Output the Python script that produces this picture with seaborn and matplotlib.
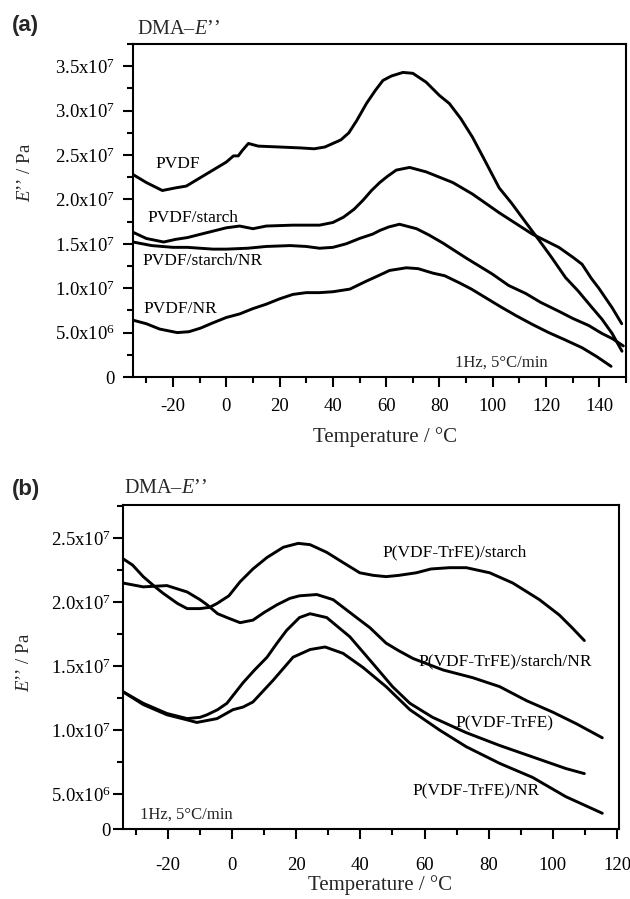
import matplotlib
matplotlib.use("Agg")
import matplotlib.pyplot as plt
import seaborn as sns
import pandas as pd
from matplotlib.ticker import MultipleLocator, FixedLocator

# ---------------- Panel (a): PVDF blends ----------------
pvdf_T = [-35, -30, -24, -19, -15, -10, -5, 0, 2.7, 4.5, 6, 8.3, 12, 20, 27.7, 33, 37, 40, 43, 46,
          49, 52.6, 56, 58.8, 62, 66.3, 70, 75, 80, 83.7, 88, 92.4, 97, 102.4, 107, 112.4, 117.4,
          122, 127.3, 132, 137.3, 141, 144.8, 148.5]
pvdf_E = [2.28e7, 2.19e7, 2.10e7, 2.13e7, 2.15e7, 2.24e7, 2.33e7, 2.42e7, 2.49e7, 2.49e7, 2.55e7,
          2.63e7, 2.60e7, 2.59e7, 2.58e7, 2.57e7, 2.59e7, 2.63e7, 2.67e7, 2.75e7, 2.89e7, 3.08e7,
          3.23e7, 3.34e7, 3.39e7, 3.43e7, 3.42e7, 3.32e7, 3.17e7, 3.08e7, 2.91e7, 2.70e7, 2.44e7,
          2.13e7, 1.96e7, 1.74e7, 1.54e7, 1.35e7, 1.12e7, 9.7e6, 7.8e6, 6.5e6, 4.9e6, 2.9e6]

starch_T = [-35, -30, -23.5, -19, -14.6, -8, 0, 5, 10, 15, 25, 35, 40, 44, 48, 51.3, 54.5, 57.6,
            60.5, 63.8, 68.8, 75, 80, 85, 92.4, 102.4, 114.8, 124.8, 130, 133.5, 137, 139.8,
            144.8, 148.4]
starch_E = [1.63e7, 1.56e7, 1.52e7, 1.55e7, 1.57e7, 1.62e7, 1.68e7, 1.70e7, 1.67e7, 1.70e7,
            1.71e7, 1.71e7, 1.74e7, 1.80e7, 1.89e7, 1.99e7, 2.10e7, 2.19e7, 2.26e7, 2.33e7,
            2.36e7, 2.31e7, 2.25e7, 2.19e7, 2.06e7, 1.85e7, 1.61e7, 1.46e7, 1.35e7, 1.27e7,
            1.11e7, 1.00e7, 7.8e6, 6.0e6]

starchnr_T = [-35, -28, -20, -14.6, -5, 0, 8, 15, 24, 30, 35, 40, 45, 50, 55, 57.6, 61, 65, 71.4,
              76, 81.2, 90, 99.8, 106, 112.4, 118, 124.8, 130, 136, 141, 145, 149]
starchnr_E = [1.52e7, 1.48e7, 1.46e7, 1.46e7, 1.44e7, 1.44e7, 1.45e7, 1.47e7, 1.48e7, 1.47e7,
              1.45e7, 1.46e7, 1.50e7, 1.56e7, 1.61e7, 1.65e7, 1.69e7, 1.72e7, 1.67e7, 1.60e7,
              1.51e7, 1.34e7, 1.16e7, 1.03e7, 9.4e6, 8.4e6, 7.4e6, 6.6e6, 5.8e6, 4.9e6, 4.3e6,
              3.5e6]

nr_T = [-35, -30, -25, -18.4, -14, -9.7, -5, 0, 5, 10, 15, 20, 25, 30, 35, 40, 46.4, 52.6, 57,
        61.3, 67.6, 72, 77.5, 82, 87.5, 92, 97.5, 103, 108.8, 115, 121, 127, 133.5, 139, 144.4]
nr_E = [6.4e6, 6.0e6, 5.4e6, 5.0e6, 5.1e6, 5.5e6, 6.1e6, 6.7e6, 7.1e6, 7.7e6, 8.2e6, 8.8e6,
        9.3e6, 9.5e6, 9.5e6, 9.6e6, 9.9e6, 1.08e7, 1.14e7, 1.20e7, 1.23e7, 1.22e7, 1.17e7,
        1.14e7, 1.06e7, 9.9e6, 8.9e6, 7.9e6, 6.9e6, 5.9e6, 5.0e6, 4.2e6, 3.3e6, 2.3e6, 1.2e6]

# ---------------- Panel (b): P(VDF-TrFE) blends ----------------
tstarch_T = [-34, -31, -27.7, -24, -21.5, -17, -14, -10, -7, -4.7, -1, 2.5, 6.5, 10.9, 16, 20.6,
             24.3, 29.5, 34.6, 39.8, 44, 48, 52, 57.4, 62, 67.8, 73, 80.3, 87.5, 95.8, 102, 106,
             109.8]
tstarch_E = [2.34e7, 2.29e7, 2.20e7, 2.12e7, 2.07e7, 1.99e7, 1.95e7, 1.95e7, 1.96e7, 1.99e7,
             2.05e7, 2.16e7, 2.26e7, 2.35e7, 2.43e7, 2.46e7, 2.45e7, 2.39e7, 2.31e7, 2.23e7,
             2.21e7, 2.20e7, 2.21e7, 2.23e7, 2.26e7, 2.27e7, 2.27e7, 2.23e7, 2.15e7, 2.02e7,
             1.90e7, 1.80e7, 1.70e7]

tstarchnr_T = [-34, -27.7, -20.3, -14, -10, -7.8, -4.5, -1.6, 2.5, 6.5, 10, 14, 18, 21, 26.4,
               31.5, 38.8, 43, 48, 52, 56.4, 65.8, 75, 83.4, 91.8, 100, 107.3, 115.4]
tstarchnr_E = [2.15e7, 2.12e7, 2.13e7, 2.08e7, 2.02e7, 1.98e7, 1.91e7, 1.88e7, 1.84e7, 1.86e7,
               1.92e7, 1.98e7, 2.03e7, 2.05e7, 2.06e7, 2.02e7, 1.88e7, 1.80e7, 1.68e7, 1.62e7,
               1.56e7, 1.47e7, 1.41e7, 1.34e7, 1.23e7, 1.14e7, 1.05e7, 9.4e6]

trfe_T = [-34, -27.7, -20.3, -14, -10, -7.8, -4.5, -1.6, 3.4, 7, 10.9, 14, 17, 21, 24.3, 29.5,
          36.7, 43.9, 50, 55.4, 62.5, 73, 83.4, 93.7, 104, 109.8]
trfe_E = [1.30e7, 1.21e7, 1.13e7, 1.09e7, 1.10e7, 1.12e7, 1.16e7, 1.21e7, 1.37e7, 1.47e7,
          1.57e7, 1.68e7, 1.78e7, 1.88e7, 1.91e7, 1.88e7, 1.73e7, 1.52e7, 1.34e7, 1.21e7,
          1.10e7, 9.8e6, 8.8e6, 7.9e6, 7.0e6, 6.6e6]

trfenr_T = [-34, -27.7, -20.3, -14, -11, -4.7, 0.3, 3.4, 6.5, 12.8, 19, 24.3, 29, 34.6, 40.8, 48,
            55.4, 64.7, 73, 83.4, 93.7, 104, 115.4]
trfenr_E = [1.30e7, 1.20e7, 1.12e7, 1.08e7, 1.06e7, 1.09e7, 1.16e7, 1.18e7, 1.22e7, 1.39e7,
            1.57e7, 1.63e7, 1.65e7, 1.60e7, 1.49e7, 1.34e7, 1.16e7, 1.00e7, 8.7e6, 7.4e6,
            6.3e6, 4.8e6, 3.5e6]

# ---------------- Ticks and labels ----------------
a_xticks = [-20, 0, 20, 40, 60, 80, 100, 120, 140]
a_yticks = [0, 5e6, 1e7, 1.5e7, 2e7, 2.5e7, 3e7, 3.5e7]
a_yticklabels = ["0", "5.0x10^{6}", "1.0x10^{7}", "1.5x10^{7}", "2.0x10^{7}", "2.5x10^{7}",
                 "3.0x10^{7}", "3.5x10^{7}"]
b_xticks = [-20, 0, 20, 40, 60, 80, 100, 120]
b_ybottom = 2.27e6
b_yticks = [b_ybottom, 5e6, 1e7, 1.5e7, 2e7, 2.5e7]
b_yticklabels = ["0", "5.0x10^{6}", "1.0x10^{7}", "1.5x10^{7}", "2.0x10^{7}", "2.5x10^{7}"]
b_yminor = [7.5e6, 1.25e7, 1.75e7, 2.25e7, 2.75e7]

a_curves = [("PVDF", pvdf_T, pvdf_E), ("PVDF/starch", starch_T, starch_E),
            ("PVDF/starch/NR", starchnr_T, starchnr_E), ("PVDF/NR", nr_T, nr_E)]
b_curves = [("P(VDF-TrFE)/starch", tstarch_T, tstarch_E),
            ("P(VDF-TrFE)/starch/NR", tstarchnr_T, tstarchnr_E),
            ("P(VDF-TrFE)", trfe_T, trfe_E), ("P(VDF-TrFE)/NR", trfenr_T, trfenr_E)]

sns.set_style("ticks")
plt.rcParams["font.family"] = ["Liberation Serif", "DejaVu Serif"]
plt.rcParams["mathtext.fontset"] = "custom"
plt.rcParams["mathtext.rm"] = "Liberation Serif"
plt.rcParams["mathtext.it"] = "Liberation Serif:italic"
plt.rcParams["axes.unicode_minus"] = False
plt.rcParams["axes.linewidth"] = 1.5
plt.rcParams["axes.edgecolor"] = "black"

fig = plt.figure(figsize=(6.3, 8.99), dpi=100)
axA = fig.add_axes([133 / 630, 1 - 377 / 899, 493 / 630, 333 / 899])
axB = fig.add_axes([123 / 630, 1 - 829 / 899, 496 / 630, 324 / 899])


def draw(ax, curves):
    for name, T, E in curves:
        df = pd.DataFrame({"T": T, "E": E})
        sns.lineplot(data=df, x="T", y="E", ax=ax, color="black", lw=2.1,
                     estimator=None, sort=False)
    for line in ax.lines:
        line.set_solid_joinstyle("round")
        line.set_solid_capstyle("round")


draw(axA, a_curves)
draw(axB, b_curves)

for ax in (axA, axB):
    ax.tick_params(which="major", direction="out", length=7, width=1.5, labelsize=13.5,
                   color="black", labelcolor="black")
    ax.tick_params(which="minor", direction="out", length=4, width=1.5, color="black")
    for s in ax.spines.values():
        s.set_linewidth(1.5)
        s.set_color("black")

# Panel (a) axes
axA.set_xlim(-35, 150)
axA.set_ylim(0, 3.75e7)
axA.xaxis.set_major_locator(FixedLocator(a_xticks))
axA.xaxis.set_minor_locator(MultipleLocator(10))
axA.yaxis.set_major_locator(FixedLocator(a_yticks))
axA.yaxis.set_minor_locator(MultipleLocator(2.5e6))
axA.set_yticklabels([t if t == "0" else r"$\mathregular{" + t + "}$" for t in a_yticklabels])
axA.tick_params(axis="x", which="major", pad=8)
axA.tick_params(axis="y", which="major", pad=6)

# Panel (b) axes
axB.set_xlim(-34, 120.6)
axB.set_ylim(b_ybottom, 2.76e7)
axB.xaxis.set_major_locator(FixedLocator(b_xticks))
axB.xaxis.set_minor_locator(MultipleLocator(10))
axB.yaxis.set_major_locator(FixedLocator(b_yticks))
axB.yaxis.set_minor_locator(FixedLocator(b_yminor))
axB.set_yticklabels([t if t == "0" else r"$\mathregular{" + t + "}$" for t in b_yticklabels])
axB.tick_params(axis="x", which="major", pad=13)
axB.tick_params(axis="y", which="major", pad=2)

ylab = r"$\mathit{E}$’’ / Pa"
axA.set_ylabel(ylab, fontsize=13.5, va="center", ha="center")
axA.yaxis.set_label_coords(-0.219, 0.613)
axB.set_ylabel(ylab, fontsize=13.5, va="center", ha="center")
axB.yaxis.set_label_coords(-0.198, 0.515)
axA.set_xlabel("Temperature / °C", fontsize=15, va="center")
axA.xaxis.set_label_coords(0.511, -0.18)
axB.set_xlabel("Temperature / °C", fontsize=15, va="center")
axB.xaxis.set_label_coords(0.518, -0.172)

# Curve labels
lab_kw = dict(fontsize=12.5, ha="left", va="center", color="black")
axA.text(-26.5, 2.40e7, "PVDF", **lab_kw)
axA.text(-29.5, 1.79e7, "PVDF/starch", **lab_kw)
axA.text(-31.4, 1.31e7, "PVDF/starch/NR", **lab_kw)
axA.text(-31.0, 7.7e6, "PVDF/NR", **lab_kw)
axA.text(86, 1.58e6, "1Hz, 5°C/min", fontsize=12, ha="left", va="center")

axB.text(47, 2.39e7, "P(VDF-TrFE)/starch", **lab_kw)
axB.text(58, 1.54e7, "P(VDF-TrFE)/starch/NR", **lab_kw)
axB.text(69.7, 1.05e7, "P(VDF-TrFE)", **lab_kw)
axB.text(56.3, 5.2e6, "P(VDF-TrFE)/NR", **lab_kw)
axB.text(-28.6, 3.36e6, "1Hz, 5°C/min", fontsize=12, ha="left", va="center")

# Panel letters and titles
fig.text(12 / 630, 1 - 26 / 899, "(a)", fontsize=16, fontweight="bold",
         family=["Liberation Sans", "DejaVu Sans"], ha="left", va="center")
fig.text(137 / 630, 1 - 30 / 899, "DMA–$\\mathit{E}$’’", fontsize=14.5, ha="left", va="center")
fig.text(12 / 630, 1 - 489 / 899, "(b)", fontsize=16, fontweight="bold",
         family=["Liberation Sans", "DejaVu Sans"], ha="left", va="center")
fig.text(124 / 630, 1 - 488 / 899, "DMA–$\\mathit{E}$’’", fontsize=14.5, ha="left", va="center")

fig.savefig("out.png", dpi=100)
